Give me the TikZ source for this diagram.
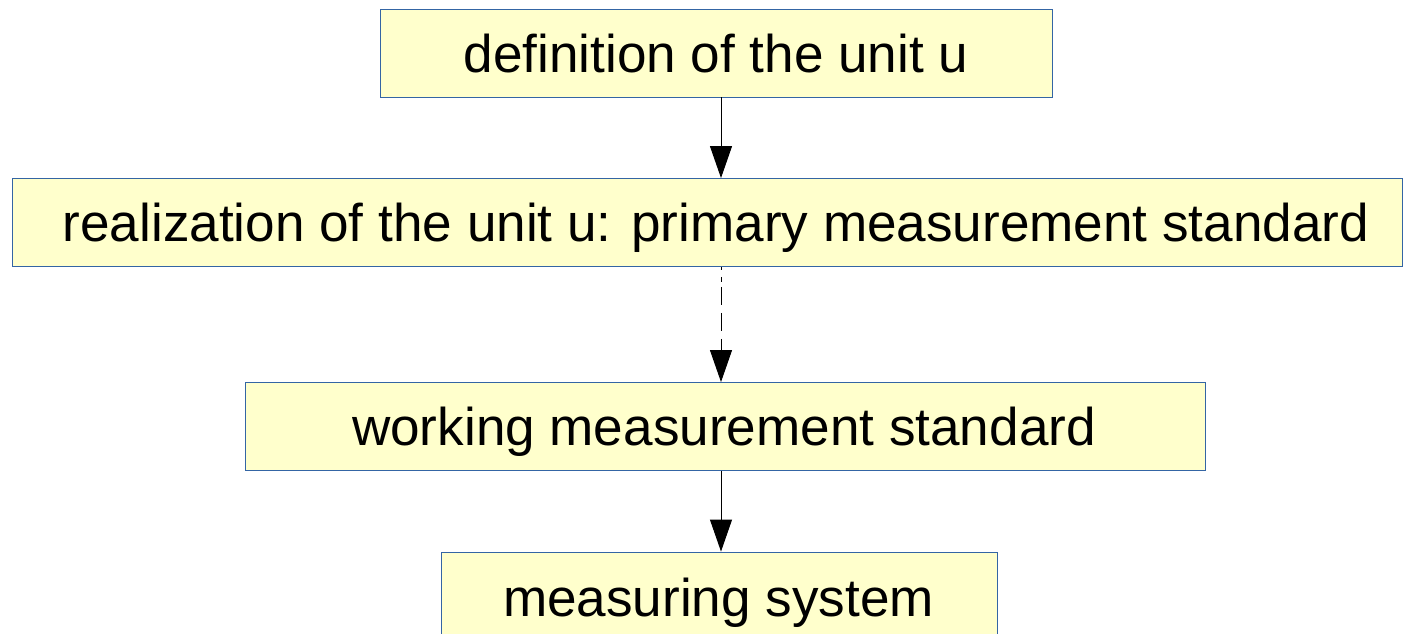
\documentclass[tikz,border=0pt]{standalone}
\usepackage{fontspec}
\setmainfont{Liberation Sans}
\usetikzlibrary{arrows.meta}
\definecolor{boxfill}{HTML}{FFFFCC}
\definecolor{boxline}{HTML}{3465A4}
\begin{document}
\begin{tikzpicture}[x=1pt,y=-1pt,
  box/.style={draw=boxline, fill=boxfill, line width=0.9pt, inner sep=0pt, minimum height=88pt},
  lbl/.style={font=\fontsize{53.1}{60}\selectfont, inner sep=0pt, text height=38.2pt, text depth=0pt},
  conn/.style={line width=1pt, -{Triangle[length=32pt, width=22pt]}},
  dashconn/.style={conn, dash pattern=on 3pt off 7pt on 5pt off 5pt on 18pt off 8pt on 18pt off 8pt on 20pt off 10pt}
]
\useasboundingbox (0,0) rectangle (1403,633);
\begin{scope}
\clip (0,0) rectangle (1403,633);
\node[box, minimum width=672pt] (b1) at (716,53) {};
\node[box, minimum width=1390pt] (b2) at (707.5,222.5) {};
\node[box, minimum width=960pt] (b3) at (725,426.5) {};
\node[box, minimum width=556pt, minimum height=90pt] (b4) at (719,597) {};
\end{scope}
\node[lbl] (t1) at (716,53) {definition of the unit u};
\node[lbl] (t2) at (716,222.5) {realization of the unit u: primary measurement standard};
\node[lbl] (t3) at (724,426.5) {working measurement standard};
\node[lbl] (t4) at (718.5,597) {measuring system};
\draw[conn] (b1.south -| 721,0) -- (b2.north -| 721,0);
\draw[dashconn] (b2.south -| 721,0) -- (b3.north -| 721,0);
\draw[conn] (b3.south -| 721,0) -- (b4.north -| 721,0);
\end{tikzpicture}
\end{document}
